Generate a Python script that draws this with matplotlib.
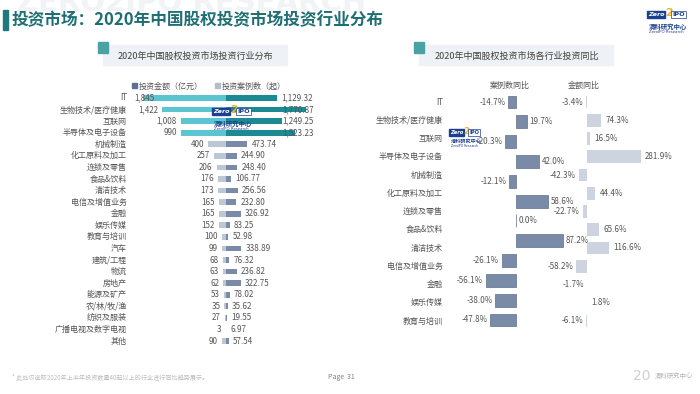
import matplotlib.pyplot as plt
from matplotlib.patches import Patch, Rectangle
from matplotlib.transforms import blended_transform_factory

plt.rcParams['font.family'] = ['Noto Sans CJK SC', 'DejaVu Sans']

# left chart: 2020 distribution by industry
industries = ['IT', '生物技术/医疗健康', '互联网', '半导体及电子设备', '机械制造',
              '化工原料及加工', '连锁及零售', '食品&饮料', '清洁技术', '电信及增值业务',
              '金融', '娱乐传媒', '教育与培训', '汽车', '建筑/工程', '物流', '房地产',
              '能源及矿产', '农/林/牧/渔', '纺织及服装', '广播电视及数字电视', '其他']
case_counts = [1845, 1422, 1008, 990, 400, 257, 206, 176, 173, 165, 165, 152,
               100, 99, 68, 63, 62, 53, 35, 27, 3, 90]
amounts = [1129.32, 1770.87, 1249.25, 1523.23, 473.74, 244.90, 248.40, 106.77,
           256.56, 232.80, 326.92, 83.25, 52.98, 338.89, 76.32, 236.82, 322.75,
           78.02, 35.62, 19.55, 6.97, 57.54]
n_highlight = 4

# right chart: year-on-year change
yoy_industries = ['IT', '生物技术/医疗健康', '互联网', '半导体及电子设备', '机械制造',
                  '化工原料及加工', '连锁及零售', '食品&饮料', '清洁技术', '电信及增值业务',
                  '金融', '娱乐传媒', '教育与培训']
case_yoy = [-14.7, 19.7, -20.3, 42.0, -12.1, 58.6, 0.0, 87.2, -26.1, -56.1, -38.0, -47.8]
amount_yoy = [-3.4, 74.3, 16.5, 281.9, -42.3, 44.4, -22.7, 65.6, 116.6, -58.2, -1.7, 1.8, -6.1]

TEAL_LIGHT = '#5cc5d2'
TEAL_DARK = '#1b8a93'
GREY_LIGHT = '#bcc6d5'
GREY_DARK = '#7a8ba7'
NAVY = '#1d3f8f'
TEXT = '#555555'
FS = 5.8

W, H = 700, 394


def fx(px):
    return px / W


def fy(py):
    return 1 - py / H


def place(left, top, right, bottom):
    return fig.add_axes([fx(left), fy(bottom), (right - left) / W, (bottom - top) / H])


def draw_logo(x, y, s=1.0):
    fig.text(fx(x), fy(y), 'Zero', fontsize=4.6 * s, color='white', fontweight='bold',
             style='italic', va='top', family='DejaVu Sans',
             bbox=dict(boxstyle='square,pad=0.15', fc=NAVY, ec=NAVY))
    fig.text(fx(x + 17 * s), fy(y - 4 * s), '2', fontsize=8 * s, color='#f0b22c',
             fontweight='bold', va='top', family='DejaVu Sans')
    fig.text(fx(x + 24 * s), fy(y), 'IPO', fontsize=4.6 * s, color=NAVY, fontweight='bold',
             va='top', family='DejaVu Sans',
             bbox=dict(boxstyle='square,pad=0.15', fc='white', ec=NAVY, lw=0.5))
    fig.text(fx(x + 1), fy(y + 11 * s), '清科研究中心', fontsize=4.6 * s, color=NAVY,
             fontweight='bold', va='top')
    fig.text(fx(x + 1), fy(y + 18 * s), 'ZeroIPO Research', fontsize=2.8 * s, color=NAVY,
             va='top', family='DejaVu Sans')


def sub_header(left, right, text):
    fig.add_artist(Rectangle((fx(left + 5), fy(65)), (right - left - 5) / W, 20 / H,
                             transform=fig.transFigure, color='#eef1f5', zorder=0))
    fig.add_artist(Rectangle((fx(left), fy(53)), 10 / W, 11 / H,
                             transform=fig.transFigure, color='#4aa2a5', zorder=1))
    fig.text(fx((left + right) / 2 + 3), fy(56), text, fontsize=6.5, color='#404040',
             ha='center', va='center')


fig = plt.figure(figsize=(W / 100, H / 100), dpi=100)

# page header
fig.text(fx(17), fy(11), 'ZERO2IPO RESEARCH', fontsize=21, fontweight='bold',
         color='#f1f3f5', va='baseline', family='DejaVu Sans')
fig.add_artist(Rectangle((fx(3), fy(30)), 5 / W, 20 / H, transform=fig.transFigure,
                         color='#1f7a7e'))
fig.text(fx(12), fy(20), '投资市场：2020年中国股权投资市场投资行业分布', fontsize=12,
         fontweight='bold', color='#1e6f74', va='center')
draw_logo(648, 12)

sub_header(98, 287, '2020年中国股权投资市场投资行业分布')
sub_header(414, 613, '2020年中国股权投资市场各行业投资同比')

# ---- left: butterfly bars ----
ax = place(140.5, 92.2, 307, 346.8)
rows = list(range(len(industries)))
light = [TEAL_LIGHT if i < n_highlight else GREY_LIGHT for i in rows]
dark = [TEAL_DARK if i < n_highlight else GREY_DARK for i in rows]
ax.barh(rows, [-v for v in case_counts], color=light, height=0.5)
ax.barh(rows, amounts, color=dark, height=0.5)
ax.set_xlim(-1900, 1800)
ax.set_ylim(len(industries) - 0.5, -0.5)
ax.set_axis_off()

for i in rows:
    ax.annotate(f'{case_counts[i]:,}', xy=(-min(case_counts[i], 1500), i), xytext=(-3, 0),
                textcoords='offset points', ha='right', va='center', fontsize=FS, color=TEXT)
    ax.annotate(f'{amounts[i]:,.2f}', xy=(min(amounts[i], 1150), i), xytext=(3, 0),
                textcoords='offset points', ha='left', va='center', fontsize=FS, color=TEXT)

lab_tr = blended_transform_factory(fig.transFigure, ax.transData)
for i, name in enumerate(industries):
    ax.text(fx(127), i, name, transform=lab_tr, ha='right', va='center',
            fontsize=FS, color=TEXT)

handles = [Patch(color='#5e6f90', label='投资金额（亿元）'),
           Patch(color='#b2bdcd', label='投资案例数（起）')]
ax.legend(handles=handles, loc='center', bbox_to_anchor=(fx(209), fy(86)),
          bbox_transform=fig.transFigure, ncol=2, frameon=False, fontsize=FS,
          handlelength=0.6, handleheight=0.6, handletextpad=0.2, columnspacing=1.6,
          labelcolor=TEXT)

# ---- right: yoy bars ----
ax_c = place(478.2, 92.1, 570, 329.9)
ax_c.barh(range(len(case_yoy)), case_yoy, color=GREY_DARK, edgecolor='#5f6f8d',
          linewidth=0.5, height=0.65)
ax_c.set_xlim(-70, 100)
ax_c.set_ylim(len(case_yoy) - 0.5, -0.5)
ax_c.set_axis_off()
for i, v in enumerate(case_yoy):
    ax_c.annotate(f'{v:.1f}%', xy=(v, i), xytext=(-2 if v < 0 else 2, 0),
                  textcoords='offset points', ha='right' if v < 0 else 'left',
                  va='center', fontsize=FS, color=TEXT)

ax_a = place(571.8, 92.9, 644, 330.1)
ax_a.barh(range(len(amount_yoy)), amount_yoy, color='#cdd3df', height=0.7)
ax_a.set_xlim(-80, 300)
ax_a.set_ylim(len(amount_yoy) - 0.5, -0.5)
ax_a.set_axis_off()
for i, v in enumerate(amount_yoy):
    ax_a.annotate(f'{v:.1f}%', xy=(v, i), xytext=(-2 if v < 0 else 3, 0),
                  textcoords='offset points', ha='right' if v < 0 else 'left',
                  va='center', fontsize=FS, color=TEXT)

lab_tr = blended_transform_factory(fig.transFigure, ax_a.transData)
for i, name in enumerate(yoy_industries):
    ax_a.text(fx(443), i, name, transform=lab_tr, ha='right', va='center',
              fontsize=FS, color=TEXT)

fig.text(fx(510), fy(85), '案例数同比', fontsize=FS, color=TEXT, ha='center', va='center')
fig.text(fx(584), fy(85), '金额同比', fontsize=FS, color=TEXT, ha='center', va='center')

# watermarks inside charts
draw_logo(213, 109)
draw_logo(450, 130, 0.8)

# footer
fig.text(fx(12), fy(377), '* 此处仅选取2020年上半年投资数量40起以上的行业进行同比趋势展示。',
         fontsize=4.4, color='#bdbdbd', va='center')
fig.text(fx(328), fy(377), 'Page  31', fontsize=5, color='#808080', va='center')
fig.text(fx(633), fy(376), '20', fontsize=10, color='#d0d0d0', va='center',
         family='DejaVu Sans')
fig.text(fx(655), fy(376), '清科研究中心', fontsize=4.6, color='#b5b5b5', va='center')

fig.savefig('out.png', dpi=100)
